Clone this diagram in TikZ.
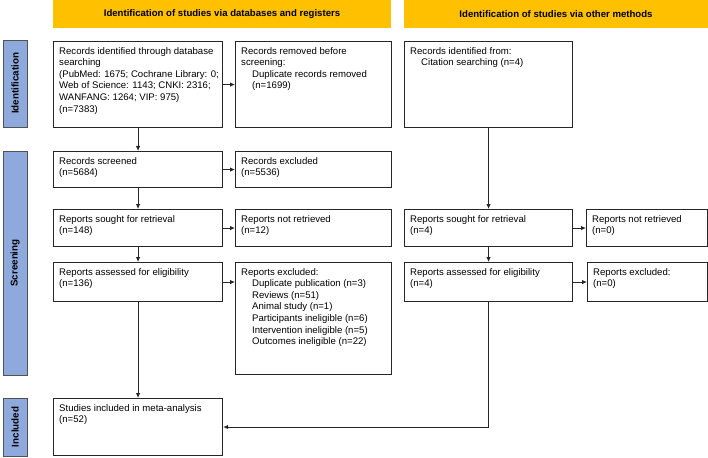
\documentclass[tikz,border=0pt]{standalone}
\usepackage{fontspec}
\setmainfont{Liberation Sans}
\usetikzlibrary{arrows.meta}
\definecolor{bannerc}{HTML}{FFC000}
\definecolor{sidec}{HTML}{8EA9DB}
\definecolor{linec}{HTML}{262626}
\tikzset{
  banner/.style={fill=bannerc, draw=none, inner sep=0pt, font=\fontsize{9.6}{11.6}\selectfont\bfseries},
  sidebar/.style={fill=sidec, draw=linec!80, line width=0.9pt, rotate=90, inner sep=0pt, font=\fontsize{9.8}{11.6}\selectfont\bfseries},
  box/.style={draw=linec, line width=1.1pt, inner sep=0pt, anchor=north west},
  txt/.style={inner sep=0pt, anchor=north west, align=left, font=\fontsize{9.6}{11.6}\selectfont},
  arr/.style={draw=linec, line width=0.9pt, -{Latex[length=5pt,width=4.5pt]}}
}
\newcommand{\mkbox}[6]{%
  \node[box, minimum width=#4-#2, minimum height=#5-#3] (#1) at (#2,#3) {};
  \node[txt] (#1t) at ([shift={(6,6)}]#1.north west) {#6};
}
\newcommand{\ind}{\hspace*{11pt}}
\begin{document}
\begin{tikzpicture}[x=1pt,y=-1pt]
\useasboundingbox (0,0) rectangle (708,457);
% banners
\node[banner, minimum width=338, minimum height=28] (ban1) at (222,14) {Identification of studies via databases and registers};
\node[banner, minimum width=304, minimum height=28] (ban2) at (556,14) {Identification of studies via other methods};
% side bars
\node[sidebar, minimum width=87, minimum height=24] (sid1) at (15,83.5) {Identification};
\node[sidebar, minimum width=224, minimum height=24] (sid2) at (15,263) {Screening};
\node[sidebar, minimum width=58, minimum height=24] (sid3) at (15,427) {Included};
% left column
\mkbox{rid}{53}{41}{222}{127}{Records identified through database\\searching\\(PubMed: 1675; Cochrane Library: 0;\\Web of Science: 1143; CNKI: 2316;\\WANFANG: 1264; VIP: 975)\\(n=7383)}
\mkbox{rrm}{235}{41}{391}{127}{Records removed before\\screening:\\\ind Duplicate records removed\\\ind (n=1699)}
\mkbox{rsc}{53}{151}{222}{187}{Records screened\\(n=5684)}
\mkbox{rex}{235}{151}{391}{187}{Records excluded\\(n=5536)}
\mkbox{rso}{53}{209}{222}{246}{Reports sought for retrieval\\(n=148)}
\mkbox{rnr}{235}{209}{391}{246}{Reports not retrieved\\(n=12)}
\mkbox{ras}{53}{262}{222}{301}{Reports assessed for eligibility\\(n=136)}
\mkbox{rxe}{235}{262}{391}{374}{Reports excluded:\\\ind Duplicate publication (n=3)\\\ind Reviews (n=51)\\\ind Animal study (n=1)\\\ind Participants ineligible (n=6)\\\ind Intervention ineligible (n=5)\\\ind Outcomes ineligible (n=22)}
\mkbox{inc}{53}{398}{222}{455}{Studies included in meta-analysis\\(n=52)}
% right column
\mkbox{oid}{404}{41}{572}{127}{Records identified from:\\\ind Citation searching (n=4)}
\mkbox{oso}{404}{209}{572}{246}{Reports sought for retrieval\\(n=4)}
\mkbox{onr}{586}{209}{707}{246}{Reports not retrieved\\(n=0)}
\mkbox{oas}{404}{262}{572}{301}{Reports assessed for eligibility\\(n=4)}
\mkbox{oxe}{587}{262}{707}{301}{Reports excluded:\\(n=0)}
% connectors
\draw[arr] (rid.south) -- (rsc.north);
\draw[arr] (rsc.south) -- (rso.north);
\draw[arr] (rso.south) -- (ras.north);
\draw[arr] (ras.south) -- (inc.north);
\draw[arr] (rid.east) -- (rrm.west);
\draw[arr] (rsc.east) -- (rex.west);
\draw[arr] (rso.east) -- (rnr.west);
\draw[arr] (ras.east) -- (ras.east -| rxe.west);
\draw[arr] (oid.south) -- (oso.north);
\draw[arr] (oso.south) -- (oas.north);
\draw[arr] (oso.east) -- (oso.east -| onr.west);
\draw[arr] (oas.east) -- (oas.east -| oxe.west);
\draw[arr] (oas.south) |- (inc.east);
\end{tikzpicture}
\end{document}
